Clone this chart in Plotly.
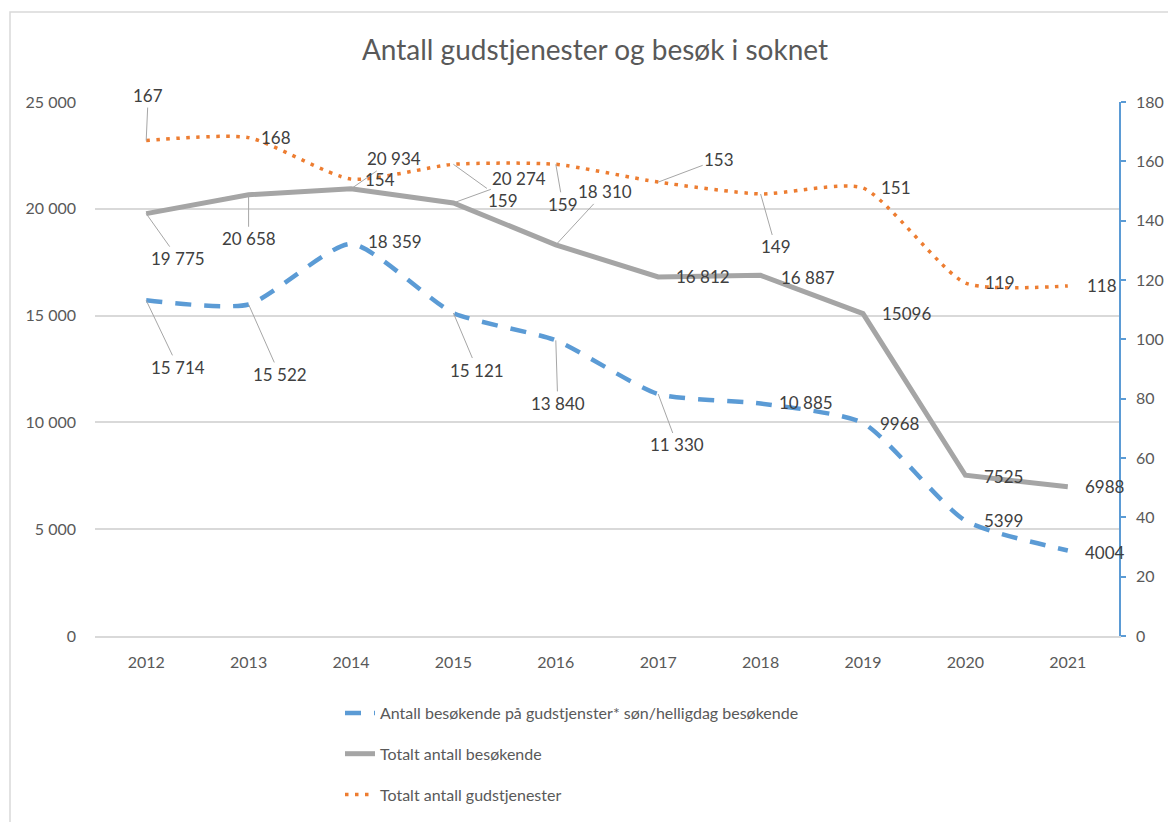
import plotly.graph_objects as go

# ---------------- data ----------------
years = ["2012", "2013", "2014", "2015", "2016", "2017", "2018", "2019", "2020", "2021"]
besok_son_helligdag = [15714, 15522, 18359, 15121, 13840, 11330, 10885, 9968, 5399, 4004]
besok_totalt = [19775, 20658, 20934, 20274, 18310, 16812, 16887, 15096, 7525, 6988]
gudstjenester_totalt = [167, 168, 154, 159, 159, 153, 149, 151, 119, 118]
grouped_label_years = ["2012", "2013", "2014", "2015", "2016", "2017", "2018"]

name_blue = "Antall besøkende på gudstjenster* søn/helligdag besøkende"
name_gray = "Totalt antall besøkende"
name_orange = "Totalt antall gudstjenester"
title_text = "Antall gudstjenester og besøk i soknet"

# ---------------- style ----------------
BLUE = "#5B9BD5"
GRAY = "#A5A5A5"
ORANGE = "#ED7D31"
TXT = "#595959"
LBL = "#404040"
GRID = "#D9D9D9"
FONT = "Lato"

W, H = 1168, 822
ML, MR, MT, MB = 95, 49, 102, 186
PW, PH = W - ML - MR, H - MT - MB


def fmt(v, year):
    if year in grouped_label_years:
        return f"{v:,}".replace(",", " ")
    return str(v)


# label offsets (dx, dy in px from point to label centre, leader line?)
blue_off = [(32, 67, True), (31, 70, True), (44, -2, False), (24, 57, True), (2, 63, True),
            (19, 51, True), (45, -1, False), (37, 0, False), (38, 0, False), (37, 2, False)]
gray_off = [(32, 45, True), (0, 44, True), (43, -30, True), (66, -24, True), (49, -53, True),
            (45, 0, False), (47, 2, False), (43, 0, False), (38, 1, False), (37, 0, False)]
orange_off = [(2, -45, True), (27, 0, False), (29, 0, False), (50, 36, True), (7, 40, True),
              (61, -23, True), (15, 53, True), (33, -1, False), (35, 0, False), (34, 0, False)]

fig = go.Figure()
fig.add_trace(go.Scatter(
    x=years, y=besok_son_helligdag, name=name_blue, mode="lines", legendgroup="a",
    line=dict(color=BLUE, width=4.5, dash="16px,13px", shape="spline", smoothing=0.6),
    yaxis="y"))
fig.add_trace(go.Scatter(
    x=years, y=besok_totalt, name=name_gray, mode="lines", legendgroup="b",
    line=dict(color=GRAY, width=5),
    yaxis="y"))
fig.add_trace(go.Scatter(
    x=years, y=gudstjenester_totalt, name=name_orange, mode="lines", legendgroup="c",
    line=dict(color=ORANGE, width=3.5, dash="3.5px,6.5px", shape="spline", smoothing=0.6),
    yaxis="y2"))

annotations = []


def add_labels(values, offsets, yref):
    for i, (yr, v, (dx, dy, leader)) in enumerate(zip(years, values, offsets)):
        txt = fmt(v, yr)
        if leader:
            annotations.append(dict(
                x=i, y=v, xref="x", yref=yref, text=txt, showarrow=True,
                ax=dx, ay=dy, arrowhead=0, arrowwidth=1, arrowcolor="#A6A6A6",
                standoff=0, font=dict(family=FONT, size=17, color=LBL)))
        else:
            annotations.append(dict(
                x=i, y=v, xref="x", yref=yref, text=txt, showarrow=False,
                xshift=dx, yshift=-dy, font=dict(family=FONT, size=17, color=LBL)))


add_labels(besok_son_helligdag, blue_off, "y")
add_labels(besok_totalt, gray_off, "y")
add_labels(gudstjenester_totalt, orange_off, "y2")

# outer chart border (Excel chart area)
shapes = [dict(
    type="rect", xref="paper", yref="paper",
    x0=(10 - ML) / PW, x1=(W + 20 - ML) / PW,
    y0=(MT + PH - (H + 20)) / PH, y1=(MT + PH - 12) / PH,
    line=dict(color=GRID, width=1.5), fillcolor="rgba(0,0,0,0)", layer="below")]

fig.update_layout(
    width=W, height=H,
    margin=dict(l=ML, r=MR, t=MT, b=MB, autoexpand=False),
    paper_bgcolor="white", plot_bgcolor="white",
    separators=", ",
    font=dict(family=FONT, size=16, color=TXT),
    title=dict(text=title_text, x=595 / W, xref="container", xanchor="center",
               y=1 - 50 / H, yref="container", yanchor="middle",
               font=dict(family=FONT, size=28, color=TXT)),
    xaxis=dict(type="category", range=[-0.5, 9.5], showgrid=False, zeroline=False,
               showline=True, linecolor=GRID, linewidth=1.5, ticks="",
               tickfont=dict(family=FONT, size=16, color=TXT), ticklabelstandoff=11),
    yaxis=dict(range=[0, 25000], dtick=5000, tickformat=",", showgrid=True,
               gridcolor=GRID, gridwidth=1.5, zeroline=False, showline=False, ticks="",
               tickfont=dict(family=FONT, size=16, color=TXT), ticklabelstandoff=18),
    yaxis2=dict(range=[0, 180], dtick=20, overlaying="y", side="right", showgrid=False,
                zeroline=False, showline=True, linecolor=BLUE, linewidth=1.5,
                ticks="outside", ticklen=5, tickcolor=BLUE, tickwidth=1.5,
                tickfont=dict(family=FONT, size=16, color=TXT), ticklabelstandoff=7),
    legend=dict(orientation="v", x=(340 - ML) / PW, xanchor="left",
                y=(PH - (696 - MT)) / PH, yanchor="top", yref="paper",
                font=dict(family=FONT, size=16, color=TXT), tracegroupgap=17,
                bgcolor="rgba(0,0,0,0)"),
    showlegend=True,
    annotations=annotations,
    shapes=shapes,
)

fig.write_html("out.html", config={"displayModeBar": False},
               post_script="document.body.style.margin='0';")
